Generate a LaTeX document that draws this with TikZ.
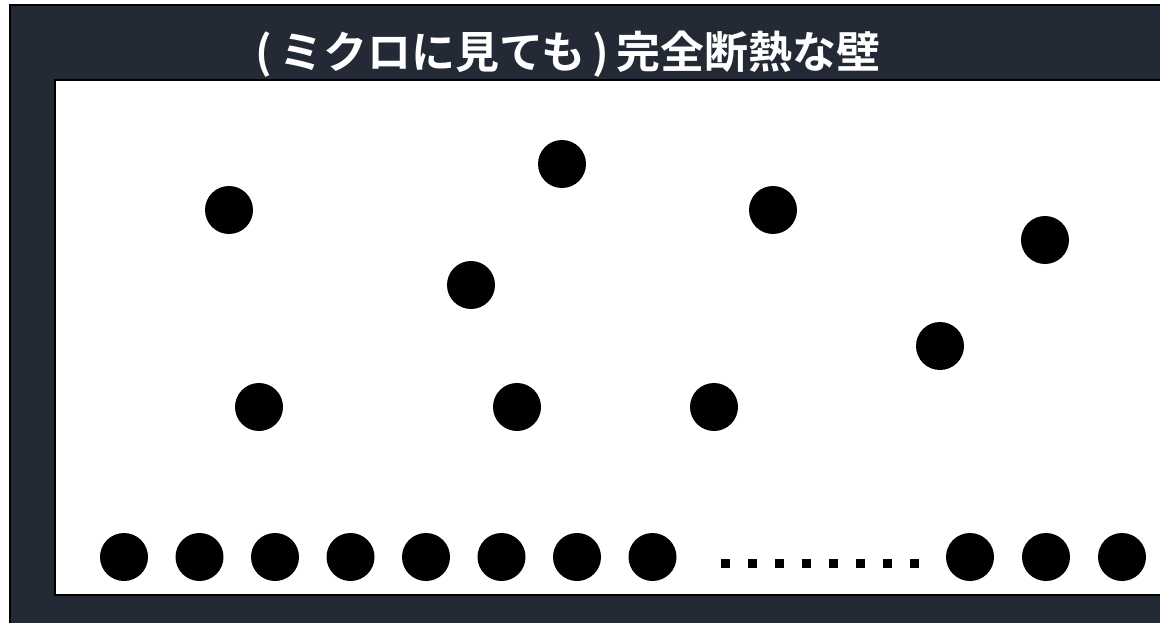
\documentclass[tikz,border=0pt]{standalone}
\usepackage{fontspec}
\newfontfamily\jpfont{Noto Sans CJK JP}[BoldFont={* Bold}]
\definecolor{wallbg}{HTML}{232A36}
\begin{document}
\begin{tikzpicture}[x=1pt,y=-1pt,
  particle/.style={circle,fill=black,draw=none,minimum size=48pt,inner sep=0pt},
  dotsq/.style={rectangle,fill=black,draw=none,minimum size=9pt,inner sep=0pt},
  titletext/.style={text=white,font=\jpfont\bfseries\fontsize{44}{44}\selectfont,inner sep=0pt}]
\useasboundingbox (0,0) rectangle (1160,623);
\fill[white] (0,0) rectangle (1160,623);
\draw[line width=2pt,draw=black,fill=wallbg] (10,5) rectangle (1175,640);
\draw[line width=2.5pt,draw=black,fill=white] (55,80) rectangle (1175,595);
\node[titletext] (title) at (568,54) {(\,ミクロに見ても\,)\,完全断熱な壁};
% scattered particles
\node[particle] (p1) at (229,210) {};
\node[particle] (p2) at (562,164) {};
\node[particle] (p3) at (773,210) {};
\node[particle] (p4) at (1045,240) {};
\node[particle] (p5) at (471,285) {};
\node[particle] (p6) at (940,346) {};
\node[particle] (p7) at (259,407) {};
\node[particle] (p8) at (517,407) {};
\node[particle] (p9) at (714,407) {};
% wall particles
\foreach \i/\x in {1/124,2/199.5,3/275,4/350.5,5/426,6/501.5,7/577,8/652.5,9/970,10/1046,11/1122}
  \node[particle] (w\i) at (\x,557) {};
\foreach \i in {0,...,7}
  \node[dotsq] (d\i) at (725.7+26.9*\i,563) {};
\end{tikzpicture}
\end{document}
